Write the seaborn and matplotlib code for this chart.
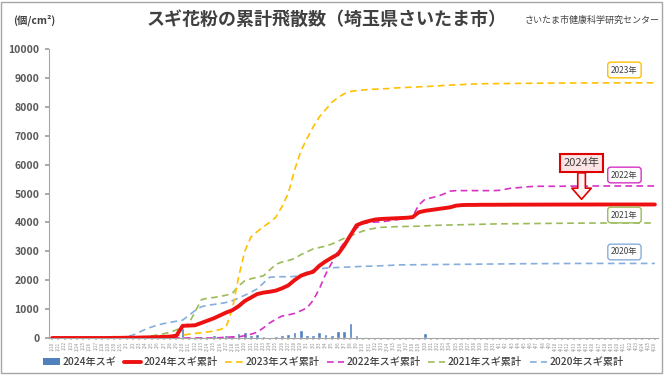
import numpy as np
import pandas as pd
import matplotlib
matplotlib.use("Agg")
import matplotlib.pyplot as plt
import seaborn as sns
from matplotlib.patches import Patch, Rectangle
from matplotlib.lines import Line2D

sns.set_theme(style="white")
plt.rcParams['font.family'] = ['Noto Sans CJK JP', 'DejaVu Sans']

# ---------------- data ----------------
start_date = "2024-01-20"
n_days = 98
days = list(range(n_days))
date_labels = [f"{d.month}/{d.day}" for d in pd.date_range(start_date, periods=n_days)]

daily_2024 = [0]*10 + [0, 0, 5, 0, 5, 5, 5, 5, 10, 10, 30] + \
    [340, 20, 40, 60, 50, 100, 60, 90, 110, 180, 200, 120, 130] + \
    [60, 50, 60, 110, 150, 200, 260, 110, 90, 220, 150, 100, 230, 240, 520, 90] + \
    [50, 30, 15, 10, 5, 10, 5, 10, 10, 30, 170, 50, 40, 40, 35, 50, 15] + \
    [5, 5, 5, 0, 5, 0, 5, 0, 0, 0] + [0]*21

cum_2024 = [0]*10 + [5, 5, 10, 10, 15, 20, 25, 30, 40, 50, 80] + \
    [420, 430, 440, 520, 600, 680, 780, 880, 960, 1100, 1280, 1400, 1520] + \
    [1570, 1600, 1640, 1720, 1820, 2000, 2150, 2230, 2290, 2500, 2650, 2780, 2900, 3200, 3550, 3900] + \
    [3990, 4050, 4100, 4120, 4130, 4140, 4150, 4160, 4180, 4350, 4400, 4430, 4460, 4490, 4520, 4580, 4600] + \
    [4605, 4605, 4610, 4610, 4610, 4612, 4612, 4614, 4614, 4615, 4615, 4616, 4616, 4617, 4617,
     4618, 4618, 4618, 4619, 4619, 4619] + [4620]*10

cum_2023 = [0]*15 + [20, 30, 40, 50, 70, 90, 100, 130, 160, 180, 210, 240, 290, 380] + \
    [1000, 2100, 3000, 3500, 3680, 3850, 4000, 4180, 4550, 5000, 5800, 6450, 6900, 7300] + \
    [7650, 7900, 8150, 8320, 8450, 8530, 8560, 8580, 8600, 8610, 8620, 8630, 8650] + \
    [8660, 8670, 8680, 8690, 8700, 8710, 8720, 8740, 8750, 8760, 8770, 8780, 8790,
     8795, 8800, 8800, 8805, 8805, 8810, 8810, 8812, 8814, 8816, 8818,
     8820, 8820, 8822, 8822, 8824, 8824, 8826, 8826, 8826, 8828, 8828, 8828] + [8830]*6

cum_2022 = [0]*27 + [10, 30, 35, 40, 80, 130, 200, 350, 520, 650, 760, 800, 850, 940, 1040] + \
    [1300, 1700, 2200, 2600, 3000, 3300, 3560, 3800, 3950, 4000, 4010, 4020, 4050, 4080, 4110, 4150, 4200] + \
    [4600, 4800, 4850, 4900, 4980, 5080] + [5100]*7 + [5110, 5150, 5190, 5200, 5220, 5240] + \
    [5250]*5 + [5255]*4 + [5260]*11

cum_2021 = [0]*13 + [10, 20, 40, 70, 110, 150, 200, 280, 380, 500, 900, 1320, 1380, 1400, 1440, 1480, 1550] + \
    [1800, 1980, 2050, 2100, 2150, 2350, 2550, 2630, 2680, 2750, 2880, 2980, 3080, 3130, 3180, 3250,
     3350, 3450, 3530, 3620, 3700, 3760, 3800, 3830, 3840] + \
    [3850, 3855, 3860, 3865, 3870, 3880, 3890, 3900, 3905, 3910, 3915, 3920, 3925, 3930, 3935, 3940,
     3945, 3950, 3952, 3954, 3956, 3958, 3960, 3962, 3964, 3966, 3968, 3970, 3972, 3974,
     3975, 3976, 3977, 3978, 3979] + [3980]*8

cum_2020 = [0]*11 + [20, 50, 100, 200, 300, 380, 450, 500, 540, 580, 620, 780, 950, 1080] + \
    [1130, 1160, 1190, 1230, 1290, 1380, 1480, 1580, 1700, 1900, 2100, 2120, 2120, 2120, 2130, 2180, 2280] + \
    [2350, 2390, 2420, 2430, 2440, 2450, 2460, 2470, 2480, 2485, 2490, 2500, 2510, 2520, 2530] + \
    [2532, 2534, 2536, 2538, 2540, 2542, 2544, 2546, 2548, 2550, 2552, 2554, 2556, 2558, 2560,
     2562, 2564, 2566, 2568, 2570, 2572, 2573, 2574, 2575, 2576, 2577, 2578, 2579] + [2580]*13

yticks = list(range(0, 10001, 1000))

# ---------------- styles ----------------
C_BAR = "#4F81BD"
C_24 = "#EE1111"
C_23 = "#FFC000"
C_22 = "#D631C4"
C_21 = "#9BBB59"
C_20 = "#86AEDC"
TXT = "#404040"

fig = plt.figure(figsize=(6.7, 3.76), dpi=100)
ax = fig.add_axes([49/670, 1-338/376, 609/670, 289/376])

df = pd.DataFrame({"day": days, "daily": daily_2024, "c24": cum_2024, "c23": cum_2023,
                   "c22": cum_2022, "c21": cum_2021, "c20": cum_2020})

sns.barplot(data=df, x="day", y="daily", native_scale=True, color=C_BAR, width=0.6,
            saturation=1, ax=ax, zorder=2)

dash = (0, (4, 2.6))
for col, c in [("c20", C_20), ("c21", C_21), ("c22", C_22), ("c23", C_23)]:
    sns.lineplot(data=df, x="day", y=col, color=c, linewidth=1.2, linestyle=dash, ax=ax, zorder=3)
sns.lineplot(data=df, x="day", y="c24", color=C_24, linewidth=2.8, ax=ax, zorder=4)

ax.set_xlim(-0.5, n_days - 0.5)
ax.set_ylim(0, 10000)
ax.set_xlabel("")
ax.set_ylabel("")
ax.set_yticks(yticks)
ax.set_yticklabels([str(v) for v in yticks], fontsize=7.5, fontweight="bold", color="#595959")
ax.set_xticks(days)
ax.set_xticklabels(date_labels, rotation=90, fontsize=3.2, color="#909090")
ax.tick_params(axis="y", length=3, color="#A0A0A0", pad=4, left=True)
ax.tick_params(axis="x", length=1.5, color="#C0C0C0", pad=1, bottom=True)
for s in ["top", "right"]:
    ax.spines[s].set_visible(False)
for s in ["left", "bottom"]:
    ax.spines[s].set_color("#A6A6A6")
    ax.spines[s].set_linewidth(0.8)
ax.grid(False)

# year labels
for txt, y, c in [("2023年", 9273, C_23), ("2022年", 5640, C_22),
                  ("2021年", 4256, C_21), ("2020年", 2976, C_20)]:
    ax.text(92.1, y, txt, fontsize=6, color=TXT, ha="center", va="center", zorder=6,
            bbox=dict(boxstyle="round,pad=0.4,rounding_size=0.35", fc="white", ec=c, lw=1.0))

# 2024 callout
ax.annotate("2024年", xy=(85.2, 4800), xytext=(85.2, 6055), fontsize=8, color=TXT,
            ha="center", va="center", zorder=7,
            bbox=dict(boxstyle="square,pad=0.35", fc="#FDE4E4", ec="#E00000", lw=1.5),
            arrowprops=dict(arrowstyle="simple,head_length=0.8,head_width=1.4,tail_width=0.55",
                            fc="#FFF4F4", ec="#E00000", lw=1.2, mutation_scale=10,
                            shrinkA=0, shrinkB=0))

# titles
fig.text(0.487, 0.947, "スギ花粉の累計飛散数（埼玉県さいたま市）", fontsize=13, color=TXT,
         ha="center", va="center", fontweight="bold")
fig.text(13/670, 0.947, "(個/cm²)", fontsize=7.5, color=TXT, ha="left", va="center",
         fontweight="bold")
fig.text(660/670, 0.947, "さいたま市健康科学研究センター", fontsize=6.5, color=TXT,
         ha="right", va="center")

# legend
handles = [Patch(facecolor=C_BAR, edgecolor="none"),
           Line2D([], [], color=C_24, lw=2.8),
           Line2D([], [], color=C_23, lw=1.2, linestyle=dash),
           Line2D([], [], color=C_22, lw=1.2, linestyle=dash),
           Line2D([], [], color=C_21, lw=1.2, linestyle=dash),
           Line2D([], [], color=C_20, lw=1.2, linestyle=dash)]
labels = ["2024年スギ", "2024年スギ累計", "2023年スギ累計", "2022年スギ累計", "2021年スギ累計", "2020年スギ累計"]
leg = fig.legend(handles, labels, loc="center", bbox_to_anchor=(0.497, 0.037), ncol=6,
                 frameon=False, fontsize=7.3, handlelength=1.7, handletextpad=0.25,
                 columnspacing=0.75, handleheight=0.6, borderpad=0.2)
for t in leg.get_texts():
    t.set_color(TXT)
    t.set_fontweight("medium")

# outer frame
fig.patches.append(Rectangle((1/670, 1 - 373/376), 661/670, 371/376, transform=fig.transFigure,
                             fill=False, ec="#A6A6A6", lw=1.0, zorder=0))

fig.savefig("out.png", dpi=100)
